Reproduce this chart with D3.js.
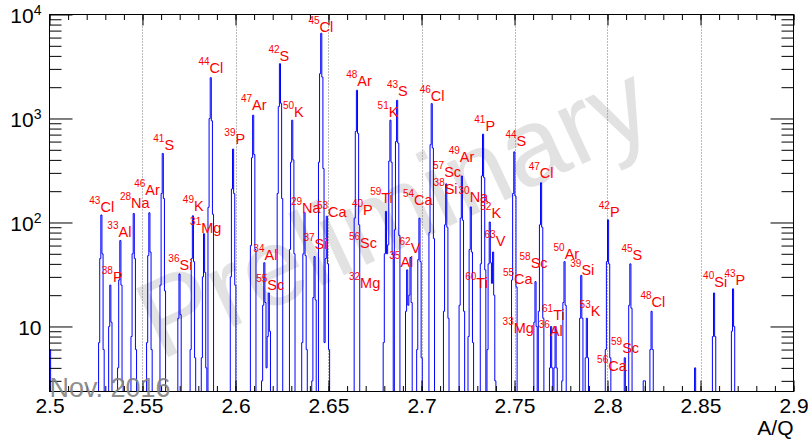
<!DOCTYPE html>
<html>
<head>
<meta charset="utf-8">
<script src="https://cdn.jsdelivr.net/npm/d3@7"></script>
<style>
  body { margin: 0; background: #fff; }
  svg { display: block; font-family: "Liberation Sans", Arial, Helvetica, sans-serif; }
</style>
</head>
<body>
<svg id="chart" width="808" height="439"></svg>
<script>
// A/Q of each peak maximum, and the contents of the 5 bins around it (bin width 0.0006)
var peakAQ = [2.5003, 2.5280, 2.5328, 2.5379, 2.5456, 2.5535, 2.5612, 2.5702, 2.5770, 2.5830,
  2.5869, 2.5989, 2.6096, 2.6154, 2.6177, 2.6237, 2.6303, 2.6369, 2.6428, 2.6461,
  2.6488, 2.6654, 2.6808, 2.6832, 2.6868, 2.6921, 2.6939, 2.6988, 2.7052, 2.7133,
  2.7214, 2.7265, 2.7331, 2.7364, 2.7386, 2.7496, 2.7612, 2.7643, 2.7698, 2.7720,
  2.7770, 2.7858, 2.7890, 2.8001, 2.8091, 2.8123, 2.8198, 2.8236, 2.8473, 2.8575,
  2.8672];
var peakBins = [
  [0, 0, 6, 2, 0], [7, 45, 118, 50, 6], [2, 10, 25, 11, 1], [4, 28, 67, 25, 3], [8, 50, 122, 45, 6],
  [7, 48, 124, 52, 6], [25, 190, 461, 170, 22], [2, 12, 32, 13, 2], [6, 45, 116, 42, 5], [5, 30, 78, 33, 4],
  [140, 1000, 2470, 950, 120], [30, 210, 508, 190, 25], [60, 420, 1076, 450, 55], [3, 16, 41, 17, 2], [2, 8, 21, 9, 1],
  [190, 1300, 3365, 1400, 170], [55, 380, 963, 400, 50], [7, 50, 125, 48, 6], [3, 19, 47, 18, 2], [380, 2700, 6600, 2500, 330],
  [7, 45, 115, 40, 6], [110, 750, 1868, 720, 95], [7, 50, 128, 50, 6], [55, 390, 963, 380, 50], [85, 600, 1497, 580, 75],
  [2, 14, 35, 13, 2], [3, 18, 46, 17, 2], [6, 44, 110, 42, 5], [80, 560, 1390, 520, 70], [14, 95, 235, 90, 12],
  [16, 110, 280, 105, 14], [8, 55, 141, 52, 7], [40, 280, 707, 270, 35], [6, 40, 101, 38, 5], [3, 21, 52, 20, 3],
  [28, 190, 478, 180, 24], [2, 11, 27, 10, 1], [14, 95, 241, 90, 12], [0, 4, 10, 4, 0], [0, 4, 10, 4, 0],
  [3, 17, 42, 16, 2], [2, 12, 31, 12, 2], [1, 5, 12, 5, 1], [6, 42, 106, 40, 5], [0, 2, 5, 2, 0],
  [2, 16, 40, 15, 2], [0, 0, 3, 3, 0], [1, 6, 14, 6, 1], [0, 0, 4, 0, 0], [1, 8, 21, 8, 1],
  [1, 9, 23, 10, 1]
];

// isotope labels: mass number, element, anchor (A/Q, counts)
var labelMass = [43, 38, 33, 28, 46, 41, 36, 49, 31, 44, 39, 47, 34, 55, 42, 50, 29, 37, 45, 53,
  48, 40, 56, 32, 59, 51, 43, 35, 62, 54, 46, 57, 38, 49, 30, 60, 41, 52, 63, 44,
  55, 33, 58, 47, 61, 36, 50, 39, 53, 42, 56, 59, 45, 48, 40, 43];
var labelElem = ['Cl', 'P', 'Al', 'Na', 'Ar', 'S', 'Si', 'K', 'Mg', 'Cl', 'P', 'Ar', 'Al', 'Sc', 'S', 'K', 'Na', 'Si', 'Cl', 'Ca',
  'Ar', 'P', 'Sc', 'Mg', 'Ti', 'K', 'S', 'Al', 'V', 'Ca', 'Cl', 'Sc', 'Si', 'Ar', 'Na', 'Ti', 'P', 'K', 'V', 'S',
  'Ca', 'Mg', 'Sc', 'Cl', 'Ti', 'Al', 'Ar', 'Si', 'K', 'P', 'Ca', 'Sc', 'S', 'Cl', 'Si', 'P'];
var labelAQ = [2.5214, 2.5281, 2.5311, 2.5379, 2.5455, 2.5558, 2.5639, 2.5717, 2.5756, 2.5801,
  2.5940, 2.6029, 2.6096, 2.6111, 2.6177, 2.6255, 2.6298, 2.6365, 2.6392, 2.6438,
  2.6595, 2.6626, 2.6610, 2.6610, 2.6724, 2.6764, 2.6814, 2.6827, 2.6882, 2.6900,
  2.6990, 2.7062, 2.7065, 2.7146, 2.7199, 2.7235, 2.7284, 2.7316, 2.7339, 2.7451,
  2.7438, 2.7436, 2.7527, 2.7576, 2.7648, 2.7630, 2.7710, 2.7800, 2.7850, 2.7953,
  2.7944, 2.8019, 2.8075, 2.8177, 2.8514, 2.8629];
var labelCount = [127, 27, 73, 137, 184, 497, 35, 130, 80, 2736,
  567, 1201, 44, 22.6, 3566, 1036, 123, 56, 6765, 114,
  2040, 118, 57, 23.4, 153, 1036, 1647, 37, 51, 148,
  1465, 276, 187, 384, 159, 23.4, 755, 110, 59, 543,
  25.8, 8.7, 36.5, 266, 11.5, 8.05, 44.5, 31.4, 12.5, 114,
  3.72, 5.5, 43.1, 15.4, 24.0, 25.2];

var xMajor = [2.5, 2.55, 2.6, 2.65, 2.7, 2.75, 2.8, 2.85, 2.9];
var xMinor = d3.range(0, 41).map(function (i) { return 2.5 + i * 0.01; });
var yDecades = [10, 100, 1000, 10000];
var yMinor = [3, 4, 5, 6, 7, 8, 9, 20, 30, 40, 50, 60, 70, 80, 90,
  200, 300, 400, 500, 600, 700, 800, 900, 2000, 3000, 4000, 5000, 6000, 7000, 8000, 9000];

var binWidth = 0.0006;
var frame = { left: 49.5, right: 793.5, top: 14.5, bottom: 391.5 };

var svg = d3.select('#chart');
var x = d3.scaleLinear().domain([2.5, 2.9]).range([frame.left, frame.right]);
var y = d3.scaleLog().domain([2.37, 10000]).range([frame.bottom, frame.top]);

// watermark
svg.append('text')
  .attr('transform', 'translate(160,361) rotate(-25)')
  .attr('font-size', 110)
  .attr('fill', '#e2e2e2')
  .text('Preliminary');

svg.append('defs').append('clipPath')
  .attr('id', 'plot-clip')
  .append('rect')
  .attr('x', frame.left)
  .attr('y', frame.top)
  .attr('width', frame.right - frame.left)
  .attr('height', frame.bottom - frame.top + 1);

// vertical dotted grid
svg.append('g')
  .selectAll('line')
  .data(xMajor.slice(1, -1))
  .enter()
  .append('line')
  .attr('x1', function (d) { return Math.round(x(d)) + 0.5; })
  .attr('x2', function (d) { return Math.round(x(d)) + 0.5; })
  .attr('y1', frame.top)
  .attr('y2', frame.bottom)
  .attr('stroke', '#777')
  .attr('stroke-width', 1)
  .attr('stroke-dasharray', '1,2');

// histogram contents
var nBins = Math.round(0.4 / binWidth);
var counts = d3.range(nBins).map(function () { return 0; });
peakAQ.forEach(function (aq, i) {
  var c = Math.floor((aq - 2.5) / binWidth);
  peakBins[i].forEach(function (v, k) {
    var j = c + k - 2;
    if (j >= 0 && j < nBins) counts[j] += v;
  });
});

var yFloor = y.domain()[0];
var path = 'M' + x(2.5) + ',' + y(yFloor);
counts.forEach(function (v, j) {
  path += 'V' + y(Math.max(v, yFloor)) + 'H' + x(Math.min(2.9, 2.5 + (j + 1) * binWidth));
});
path += 'V' + y(yFloor);

svg.append('path')
  .attr('clip-path', 'url(#plot-clip)')
  .attr('d', path)
  .attr('fill', 'none')
  .attr('stroke', '#0000ff')
  .attr('stroke-width', 1);

// frame
svg.append('rect')
  .attr('x', frame.left)
  .attr('y', frame.top)
  .attr('width', frame.right - frame.left)
  .attr('height', frame.bottom - frame.top)
  .attr('fill', 'none')
  .attr('stroke', '#000')
  .attr('stroke-width', 1);

function tickStyle(g) {
  g.select('.domain').remove();
  g.selectAll('.tick line').attr('stroke', '#000');
}

// x axes, ticks drawn inward
svg.append('g')
  .attr('transform', 'translate(0,' + frame.bottom + ')')
  .call(d3.axisBottom(x).tickValues(xMinor).tickSize(-5.5).tickFormat(''))
  .call(tickStyle);
svg.append('g')
  .attr('transform', 'translate(0,' + frame.bottom + ')')
  .call(d3.axisBottom(x).tickValues(xMajor).tickSize(-11).tickPadding(7)
    .tickFormat(d3.format('')))
  .call(tickStyle)
  .selectAll('text')
  .attr('font-size', 21)
  .attr('font-family', '"Liberation Sans", Arial, sans-serif')
  .attr('fill', '#000');
svg.append('g')
  .attr('transform', 'translate(0,' + frame.top + ')')
  .call(d3.axisTop(x).tickValues(xMinor).tickSize(-5.5).tickFormat(''))
  .call(tickStyle);
svg.append('g')
  .attr('transform', 'translate(0,' + frame.top + ')')
  .call(d3.axisTop(x).tickValues(xMajor).tickSize(-11).tickFormat(''))
  .call(tickStyle);

// y axes
[[d3.axisLeft, frame.left], [d3.axisRight, frame.right]].forEach(function (a) {
  svg.append('g')
    .attr('transform', 'translate(' + a[1] + ',0)')
    .call(a[0](y).tickValues(yMinor).tickSize(-12).tickFormat(''))
    .call(tickStyle);
  svg.append('g')
    .attr('transform', 'translate(' + a[1] + ',0)')
    .call(a[0](y).tickValues(yDecades).tickSize(-23).tickFormat(''))
    .call(tickStyle);
});

var yLabels = svg.append('g')
  .selectAll('text')
  .data(yDecades)
  .enter()
  .append('text')
  .attr('x', frame.left - 8)
  .attr('y', function (d) { return y(d); })
  .attr('dy', '0.42em')
  .attr('text-anchor', 'end')
  .attr('font-size', 21);
yLabels.append('tspan').text('10');
yLabels.filter(function (d) { return d > 10; })
  .append('tspan')
  .attr('dy', -8)
  .attr('font-size', 14)
  .text(function (d) { return Math.round(Math.log10(d)); });

svg.append('text')
  .attr('x', frame.right)
  .attr('y', 435)
  .attr('text-anchor', 'end')
  .attr('font-size', 21)
  .text('A/Q');

// isotope labels
var labels = svg.append('g')
  .selectAll('text')
  .data(labelMass)
  .enter()
  .append('text')
  .attr('x', function (d, i) { return x(labelAQ[i]); })
  .attr('y', function (d, i) { return y(labelCount[i]); })
  .attr('fill', '#ff0000');
labels.append('tspan')
  .attr('font-size', 10)
  .attr('dy', -8)
  .text(function (d) { return d; });
labels.append('tspan')
  .attr('font-size', 14.5)
  .attr('dy', 8)
  .text(function (d, i) { return labelElem[i]; });

svg.append('text')
  .attr('x', frame.left)
  .attr('y', 397)
  .attr('font-size', 27)
  .attr('fill', '#808080')
  .attr('fill-opacity', 0.9)
  .text('Nov. 2016');
</script>
</body>
</html>
